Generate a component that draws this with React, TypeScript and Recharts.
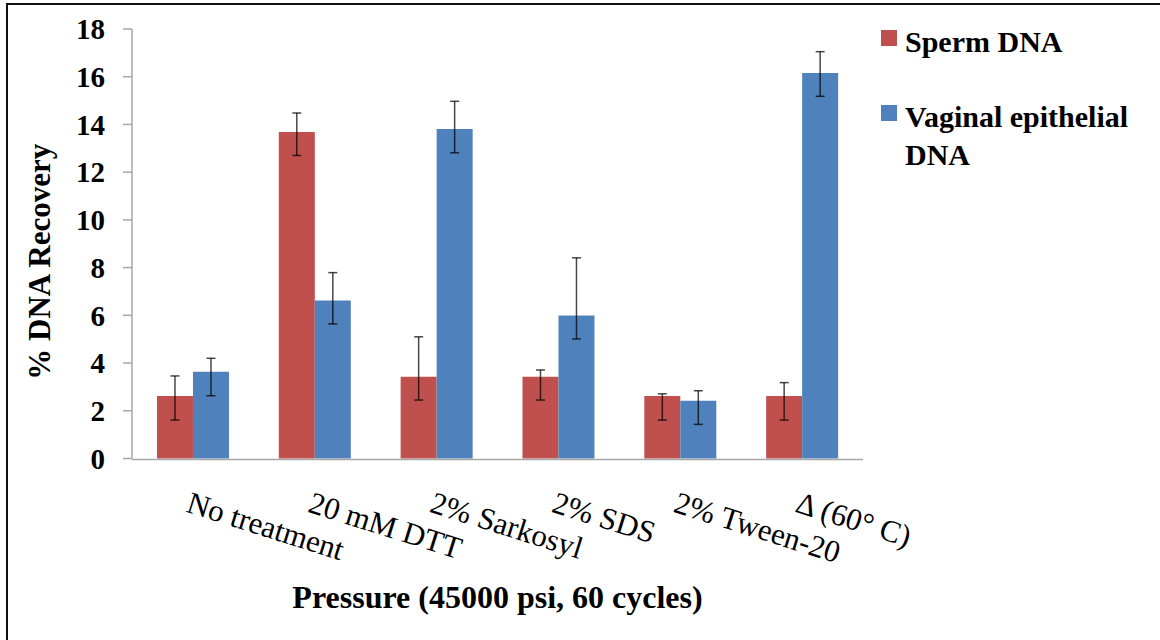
import React from "react";
import { BarChart, Bar, XAxis, YAxis, ErrorBar, Legend } from "recharts";

const categories = ["No treatment", "20 mM DTT", "2% Sarkosyl", "2% SDS", "2% Tween-20", "Δ (60° C)"];
const spermValues = [2.62, 13.68, 3.43, 3.43, 2.62, 2.62];
const spermErrLow = [1.01, 0.98, 0.98, 0.98, 1.01, 1.01];
const spermErrHigh = [0.84, 0.8, 1.67, 0.28, 0.09, 0.56];
const vaginalValues = [3.64, 6.62, 13.81, 5.99, 2.42, 16.16];
const vaginalErrLow = [1.01, 0.98, 1.0, 0.98, 0.99, 0.98];
const vaginalErrHigh = [0.56, 1.17, 1.16, 2.42, 0.42, 0.89];
const yTicks = [0, 2, 4, 6, 8, 10, 12, 14, 16, 18];
const boundaryTicks = [0, 1, 2, 3, 4, 5, 6];

const data = categories.map((name, i) => ({
  name,
  pos: i + 0.5,
  sperm: spermValues[i],
  spermErr: [spermErrLow[i], spermErrHigh[i]],
  vaginal: vaginalValues[i],
  vaginalErr: [vaginalErrLow[i], vaginalErrHigh[i]],
}));

const FONT = "'Liberation Serif', 'Times New Roman', serif";
const AXIS_GRAY = "#a6a6a6";

const CatTick = (props: any) => {
  const { x, y, payload } = props;
  return (
    <text
      transform={`translate(${x - 8}, ${y + 53}) rotate(17.5)`}
      textAnchor="start"
      fontFamily={FONT}
      fontSize={31}
      fill="#000"
    >
      {payload.value}
    </text>
  );
};

const renderLegend = (props: any) => {
  const payload = props.payload || [];
  return (
    <div style={{ width: 279, fontFamily: FONT, fontWeight: "bold", fontSize: 30, color: "#000" }}>
      {payload.map((entry: any, i: number) => (
        <div
          key={i}
          style={{ display: "flex", alignItems: "flex-start", marginBottom: i === 0 ? 37 : 0 }}
        >
          <span
            style={{
              width: 16,
              height: 16,
              background: entry.color,
              marginTop: 7,
              marginRight: 8,
              flex: "none",
              display: "inline-block",
            }}
          />
          <span style={{ width: 240, lineHeight: "38px" }}>{entry.value}</span>
        </div>
      ))}
    </div>
  );
};

export default function App() {
  return (
    <div style={{ position: "absolute", left: 0, top: 0, width: 1160, height: 640, background: "#fff" }}>
      <div
        style={{
          position: "absolute",
          left: 6,
          top: 3,
          right: 0,
          bottom: 0,
          borderLeft: "2px solid #111",
          borderTop: "2px solid #111",
        }}
      />
      <div style={{ position: "absolute", left: 0, top: 0 }}>
        <BarChart
          width={1160}
          height={640}
          data={data}
          margin={{ top: 29, right: 297, bottom: 179.5, left: 0 }}
          barCategoryGap="20.5%"
          barGap={0}
        >
          <XAxis
            xAxisId="num"
            type="number"
            dataKey="pos"
            domain={[0, 6]}
            ticks={boundaryTicks}
            tick={false}
            tickSize={9}
            tickLine={{ stroke: AXIS_GRAY, strokeWidth: 1.5 }}
            axisLine={{ stroke: AXIS_GRAY, strokeWidth: 1.5 }}
            height={1}
          />
          <XAxis
            xAxisId="cat"
            dataKey="name"
            interval={0}
            axisLine={false}
            tickLine={false}
            tickSize={0}
            tickMargin={0}
            height={1}
            tick={<CatTick />}
            label={{
              content: (p: any) => {
                const vb = p.viewBox || {};
                return (
                  <text
                    x={vb.x + vb.width / 2}
                    y={608}
                    textAnchor="middle"
                    fontFamily={FONT}
                    fontWeight="bold"
                    fontSize={32}
                    fill="#000"
                  >
                    Pressure (45000 psi, 60 cycles)
                  </text>
                );
              },
            }}
          />
          <YAxis
            width={132}
            domain={[0, 18]}
            ticks={yTicks}
            interval={0}
            tickSize={9}
            tickMargin={18}
            tickLine={{ stroke: AXIS_GRAY, strokeWidth: 1.5 }}
            axisLine={{ stroke: AXIS_GRAY, strokeWidth: 1.5 }}
            tick={{ fontFamily: FONT, fontSize: 29, fontWeight: "bold", fill: "#000" }}
            label={{
              content: (p: any) => {
                const vb = p.viewBox || {};
                const cy = vb.y + vb.height / 2 + 18;
                return (
                  <text
                    x={50}
                    y={cy}
                    transform={`rotate(-90, 50, ${cy})`}
                    textAnchor="middle"
                    fontFamily={FONT}
                    fontWeight="bold"
                    fontSize={31}
                    fill="#000"
                  >
                    % DNA Recovery
                  </text>
                );
              },
            }}
          />
          <Legend
            content={renderLegend}
            wrapperStyle={{ position: "absolute", left: 881, top: 23, width: 0, height: 0, overflow: "visible" }}
          />
          <Bar xAxisId="cat" dataKey="sperm" name="Sperm DNA" fill="#C0504D" isAnimationActive={false}>
            <ErrorBar dataKey="spermErr" width={4.5} stroke="rgba(0,0,0,0.72)" strokeWidth={1.5} direction="y" />
          </Bar>
          <Bar xAxisId="cat" dataKey="vaginal" name="Vaginal epithelial DNA" fill="#4F81BD" isAnimationActive={false}>
            <ErrorBar dataKey="vaginalErr" width={4.5} stroke="rgba(0,0,0,0.72)" strokeWidth={1.5} direction="y" />
          </Bar>
        </BarChart>
      </div>
    </div>
  );
}
